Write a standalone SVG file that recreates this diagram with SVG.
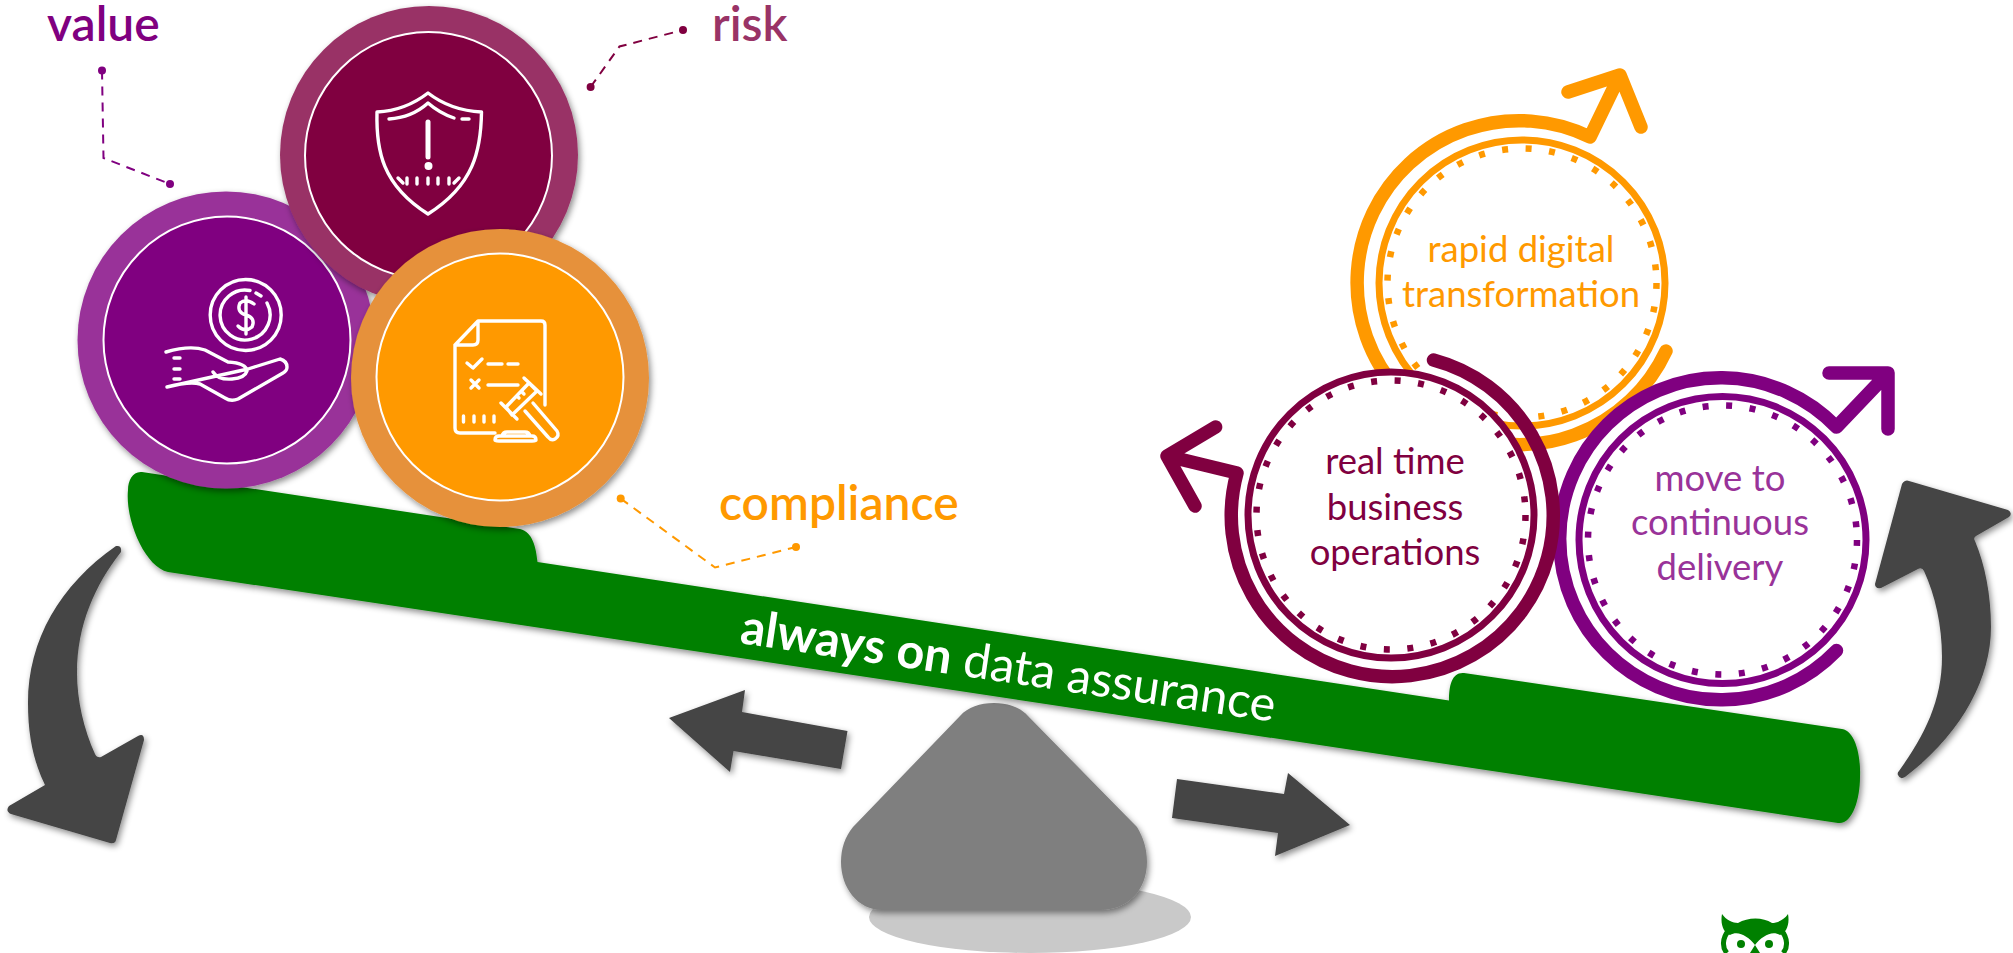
<svg xmlns="http://www.w3.org/2000/svg" width="2013" height="953" viewBox="0 0 2013 953">
<style>
.ft{font-family:"Lato","Open Sans","Liberation Sans",sans-serif}
.lbl{font-size:48px;font-weight:600;text-anchor:start}
.ct{font-size:36.500px;font-weight:400;text-anchor:middle}
.ic{fill:none;stroke:#fff;stroke-width:3.400;stroke-linecap:round;stroke-linejoin:round;filter:url(#soft)}
.thin{fill:#fff;stroke-width:7}
.dot{fill:none;stroke-width:6.500;stroke-dasharray:6 17.600}
.thick{fill:none;stroke-width:13.500;stroke-linecap:round;stroke-linejoin:round}
.dk{fill:#444;filter:url(#sh)}
.lead{fill:none;stroke-width:2;stroke-dasharray:9 7}
</style>
<defs>
<filter id="sh" x="-20%" y="-20%" width="140%" height="140%"><feDropShadow dx="2" dy="3" stdDeviation="3" flood-color="#000" flood-opacity=".45"/></filter>
<filter id="soft" x="-5%" y="-5%" width="110%" height="110%"><feGaussianBlur stdDeviation=".45"/></filter>
<marker id="dv" markerUnits="userSpaceOnUse" markerWidth="10" markerHeight="10" refX="5" refY="5"><circle cx="5" cy="5" r="4" fill="#800080"/></marker>
<marker id="dr" markerUnits="userSpaceOnUse" markerWidth="10" markerHeight="10" refX="5" refY="5"><circle cx="5" cy="5" r="4" fill="#800040"/></marker>
<marker id="dc" markerUnits="userSpaceOnUse" markerWidth="10" markerHeight="10" refX="5" refY="5"><circle cx="5" cy="5" r="4" fill="#f90"/></marker>
</defs>
<rect width="2013" height="953" fill="#fff"/>

<g id="base">
<ellipse cx="1030" cy="917" rx="161" ry="36" fill="#c9c9c9"/>
<path d="M994,703C1008,703 1020,707 1028,716L1137,827C1143,837 1147,848 1147,862C1147,890 1128,910 1100,910H882C858,910 841,888 841,862C841,848 845,837 853,827L960,716C968,707 980,703 994,703Z" fill="#7f7f7f" filter="url(#sh)"/>
</g>

<g id="move-arrows">
<path class="dk" d="M669,718L745,690L742,712L847.500,731L841,769L733.500,751L730,772Z"/>
<path class="dk" d="M1177,779L1284,794L1288,773L1350,825L1275,856L1278,833L1172,818Z"/>
<path class="dk" d="M116,546C60,585 28,640 28,703C28,735 33,760 45,785L9,806Q5,811 11,814L110,843Q115,844 116,840L144,740Q144,733 138,736L101,757Q97,758 95,754C84,730 77,700 77,673C77,625 95,585 121,552Q122,545 116,546Z"/>
<path class="dk" d="M1905,481Q1907,480 1909,481L2008,510Q2013,513 2009,517L1976,536Q1973,538 1975,541C1985,565 1991,595 1991,627C1991,680 1960,735 1905,777Q1900,780 1898,775Q1897,773 1899,771C1925,735 1942,700 1942,657C1942,625 1935,595 1924,571Q1922,567 1918,569L1881,588Q1875,589 1875,584L1902,484Q1903,482 1905,481Z"/>
</g>

<g id="beam">
<path d="M142,472L520,529C533,532 536,548 537.500,562L1449,700.500C1449,685 1452,672 1464,673L1842,729C1855,731 1861,755 1860,777C1860,800 1852,825 1838,823L168,572C145,567 125,520 128,490C128,480 133,471 142,472Z" fill="#008000" filter="url(#sh)"/>
<text class="ft" transform="translate(739,643) rotate(8.400)" font-size="48.500" fill="#fff"><tspan font-weight="700">always on</tspan><tspan font-weight="400"> data assurance</tspan></text>
</g>

<g id="value" filter="url(#sh)">
<circle cx="226" cy="340" r="148.500" fill="#993399"/>
<circle cx="227" cy="340" r="123.500" fill="#800080" stroke="#fff" stroke-width="2"/>
<g class="ic">
<circle cx="245.700" cy="315" r="35.500"/>
<path d="M267,303A25,25 0 1 1 250,290.500M256,293L261,296"/>
<path d="M254,304Q246,298 240,303Q236,312 246,315Q256,318 252,327Q245,333 238,326M246,297V334"/>
<path d="M166,352Q190,345 205,350L228,362Q246,363 247,371Q245,378 232,379Q218,380 213,372M248,369L280,359Q287,361 287,367Q287,371 283,373L238,399Q231,402 225,398L200,384Q190,381 167,387ZM174,358H180M174,369H180M174,379H180"/>
</g>
</g>

<g id="risk" filter="url(#sh)">
<circle cx="429" cy="155" r="149" fill="#993366"/>
<circle cx="428.500" cy="155.500" r="123.500" fill="#800040" stroke="#fff" stroke-width="2"/>
<g class="ic">
<path d="M428,93C415,103 398,111 377,112C376,150 382,185 428,214C474,185 481,150 481.500,112C459,111 441,103 428,93Z"/>
<path d="M389,119C405,118 418,112 428,103C436,110 445,115 454,118M462,119H469"/>
<path d="M428,122V157" stroke-width="5"/>
<circle cx="428.500" cy="166" r="2" stroke-width="4"/>
<path d="M398,178L403,183M407,178V184M417,178V184M428,178V184M438,178V184M449,178V184M459,178L454,183"/>
</g>
</g>

<g id="compliance" filter="url(#sh)">
<circle cx="500" cy="378" r="149" fill="#e6913a"/>
<circle cx="500" cy="377" r="123.500" fill="#f90" stroke="#fff" stroke-width="2"/>
<g class="ic">
<path d="M455,345L478,321H541Q545,321 545,325V405M455,345V428Q455,433 460,433H495M455,345H473Q478,345 478,340V321"/>
<path d="M467,363L473,368L482,359M488,364H502M508,364H518M471,380L479,388M479,380L471,388M488,385H518M463.500,416V422M474,416V422M484,416V422M494,416V422"/>
<path d="M501,403L517,419M524,378L541,394M506,407L529,383L537,391L512,415ZM533,403L557,431Q560,436 555,439Q551,441 548,437L525,411M517,396L519,398M522,392L524,394"/>
<path d="M495,440Q495,436 499,436H532Q536,436 536,440Q536,441 532,441H499Q495,441 495,440ZM502,436Q503,432 507,432H525Q529,432 530,436"/>
</g>
</g>

<g id="connectors">
<path class="lead" stroke="#800080" marker-start="url(#dv)" marker-end="url(#dv)" d="M102,70.600L103.500,158L170,184"/>
<path class="lead" stroke="#800040" marker-start="url(#dr)" marker-end="url(#dr)" d="M590.600,87L619.500,46.500L683,30"/>
<path class="lead" stroke="#f90" marker-start="url(#dc)" marker-end="url(#dc)" d="M620.700,498.600L715,567.500L796,547"/>
</g>
<text id="value-label" class="ft lbl" x="47" y="41" fill="#800080">value</text>
<text id="risk-label" class="ft lbl" x="712" y="41" fill="#993366">risk</text>
<text id="compliance-label" class="ft lbl" x="719" y="520" fill="#f90">compliance</text>

<g id="rapid-digital-transformation" stroke="#f90">
<circle class="thin" cx="1522" cy="283" r="143"/>
<circle class="dot" cx="1522" cy="283" r="134.500"/>
<path class="thick" d="M1666,351A162,162 0 1 1 1590,137L1620,75M1568,92L1620,75L1641,127"/>
<g stroke="none" fill="#f90" class="ft ct"><text x="1521" y="262">rapid digital</text><text x="1521" y="307">transformation</text></g>
</g>

<g id="move-to-continuous-delivery" stroke="#800080">
<circle class="thin" cx="1722.500" cy="540" r="143.500"/>
<circle class="dot" cx="1722.500" cy="540" r="134.500"/>
<path class="thick" d="M1836.500,427A161,161 0 1 0 1836.500,650.600M1836.500,427L1888,373M1829,373H1888V429"/>
<g stroke="none" fill="#993399" class="ft ct"><text x="1720" y="491">move to</text><text x="1720" y="535">continuous</text><text x="1720" y="580">delivery</text></g>
</g>

<g id="real-time-business-operations" stroke="#800040">
<circle class="thin" cx="1391" cy="515" r="143"/>
<circle class="dot" cx="1391" cy="515" r="134.500"/>
<path class="thick" d="M1433.500,360A161,161 0 1 1 1237,473L1167,456M1215.600,427L1167,456L1195,506"/>
<g stroke="none" fill="#800040" class="ft ct"><text x="1395" y="474">real time</text><text x="1395" y="520">business</text><text x="1395" y="565">operations</text></g>
</g>

<g id="owl">
<path d="M1722,914C1726,920 1733,923 1738,923C1748,917 1763,917 1772,923C1777,923 1784,920 1788,914C1790,925 1786,933 1780,935C1772,930 1762,936 1755,945C1748,936 1738,930 1730,935C1724,933 1720,925 1722,914Z" fill="#008000"/>
<path d="M1729,930C1722,938 1722,948 1727,953M1781,930C1788,938 1788,948 1783,953" fill="none" stroke="#008000" stroke-width="5"/>
<path d="M1733,937C1739,936 1747,941 1751,953H1740C1734,953 1731,945 1733,937ZM1777,937C1771,936 1763,941 1759,953H1770C1776,953 1779,945 1777,937Z" fill="#fff"/>
<circle cx="1741" cy="944" r="4" fill="#008000"/><circle cx="1769" cy="944" r="4" fill="#008000"/>
<path d="M1750,953L1755,945L1760,953Z" fill="#008000"/>
</g>
</svg>
